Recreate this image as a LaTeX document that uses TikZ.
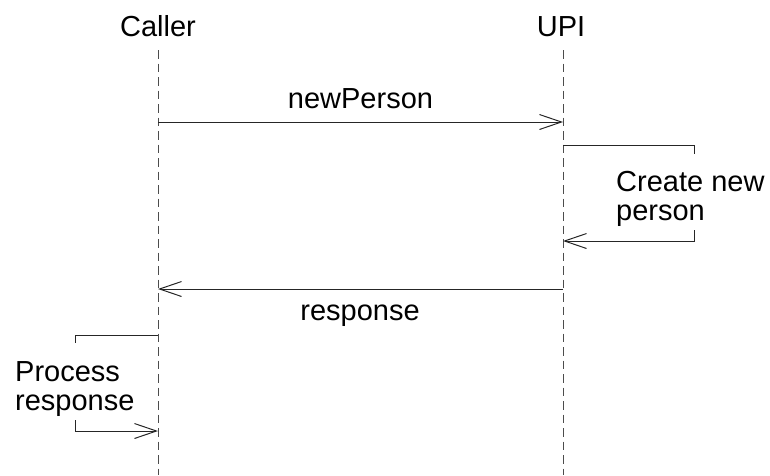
\documentclass[tikz,border=0pt]{standalone}
\usepackage{fontspec}
\setmainfont{Liberation Sans}
\usetikzlibrary{arrows.meta}
\begin{document}
\begin{tikzpicture}[x=1pt,y=-1pt,
  lbl/.style={font=\fontsize{29}{28.5}\selectfont, inner sep=0pt, text=black},
  lifeline/.style={draw=black!70, line width=1pt, dash pattern=on 8.5pt off 5pt},
  msg/.style={draw=black!85, line width=1pt, -{Straight Barb[length=22pt,width=15pt,line width=1pt]}},
  seg/.style={draw=black!85, line width=1pt}]
\useasboundingbox (0,0) rectangle (770,475);
% lifeline heads
\node[lbl, anchor=base] (caller) at (158,36) {Caller};
\node[lbl, anchor=base] (upi) at (561,36) {UPI};
\coordinate (callerTop) at (158,50);
\coordinate (callerBot) at (158,475);
\coordinate (upiTop) at (563,50);
\coordinate (upiBot) at (563,475);
\draw[lifeline] (callerTop) -- (callerBot);
\draw[lifeline] (upiTop) -- (upiBot);
% newPerson
\coordinate (c1) at (158,122);
\coordinate (u1) at (563,122);
\draw[msg] (c1) -- (u1);
\node[lbl, anchor=base] (newp) at (360.5,108) {newPerson};
% self message UPI
\coordinate (u2) at (563,145);
\coordinate (u2r) at (694,145);
\coordinate (u2t) at (694,154);
\coordinate (u3t) at (694,230);
\coordinate (u3r) at (694,241);
\coordinate (u3) at (563,241);
\draw[seg] (u2) -- (u2r) -- (u2t);
\draw[msg] (u3t) -- (u3r) -- (u3);
\node[lbl, anchor=base west, align=left] (create) at (616,220) {Create new\\person};
% response
\coordinate (u4) at (563,289);
\coordinate (c4) at (158,289);
\draw[msg] (u4) -- (c4);
\node[lbl, anchor=base] (resp) at (360,320) {response};
% self message Caller
\coordinate (c5) at (158,335);
\coordinate (c5l) at (75,335);
\coordinate (c5t) at (75,343);
\coordinate (c6t) at (75,420);
\coordinate (c6l) at (75,431);
\coordinate (c6) at (158,431);
\draw[seg] (c5) -- (c5l) -- (c5t);
\draw[msg] (c6t) -- (c6l) -- (c6);
\node[lbl, anchor=base west, align=left] (proc) at (15,410) {Process\\response};
\end{tikzpicture}
\end{document}
